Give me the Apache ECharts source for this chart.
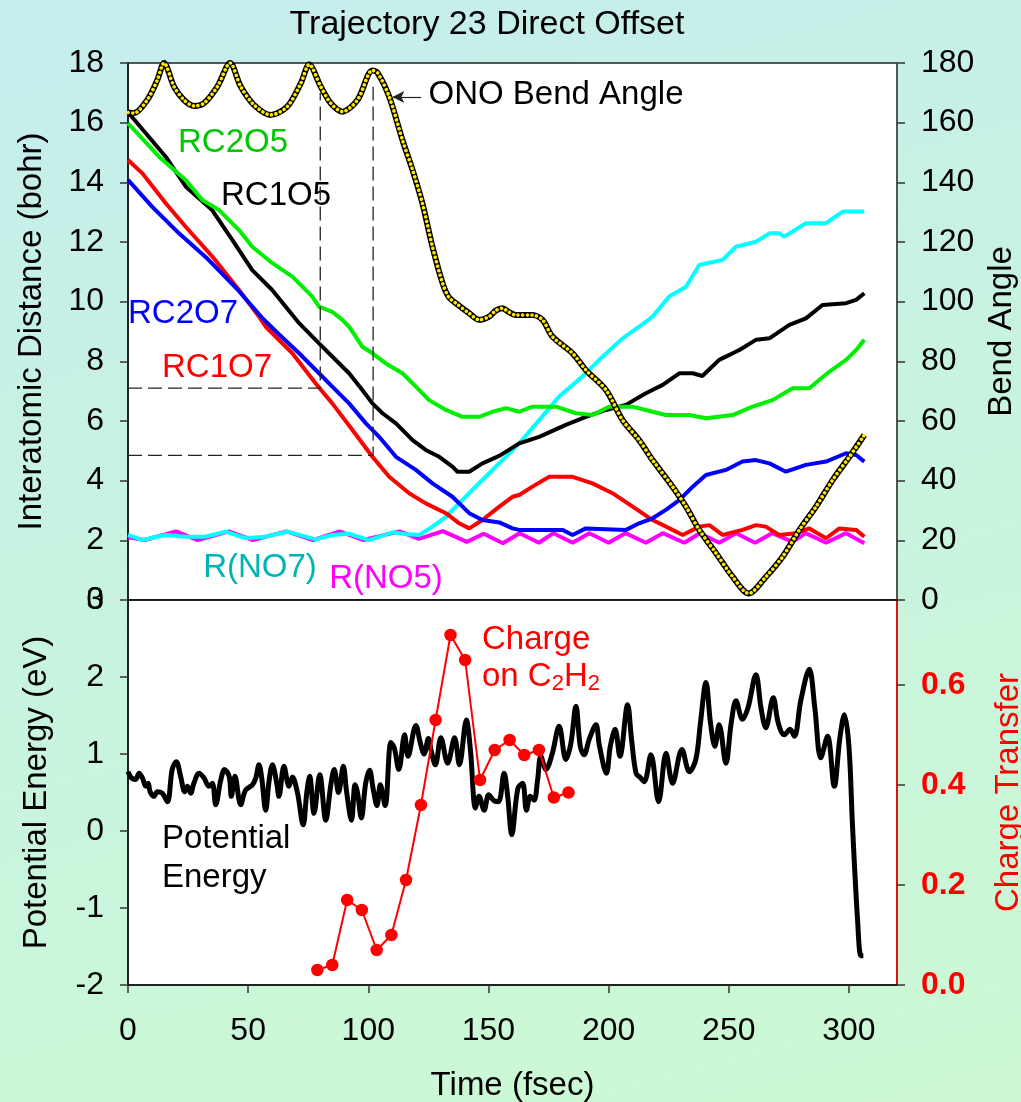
<!DOCTYPE html>
<html><head><meta charset="utf-8">
<script src="https://cdn.jsdelivr.net/npm/echarts@6/dist/echarts.min.js"></script>
<style>
html,body{margin:0;padding:0;overflow:hidden;width:1021px;height:1102px;}
body{background:linear-gradient(165deg,#c5edee 0%,#c8f3e0 45%,#ccf9d3 100%);}
#c{position:absolute;left:0;top:0;width:1021px;height:1102px;}
</style></head><body><div id="c"></div>
<script>
// ---------- DATA ----------
const timeTicks = [0, 50, 100, 150, 200, 250, 300];
const chargeTicks = [0, 0.2, 0.4, 0.6];

// Interatomic distances (bohr): [time fsec, value]
const rc2o5 = [[0,15.98],[12.9,14.86],[24,14.08],[30.9,13.41],[37.9,13.07],[46.2,12.40],[51.7,11.84],[60.1,11.29],[68.4,10.84],[76.7,10.17],[79.5,9.83],[85,9.66],[89.2,9.39],[92,9.16],[97.5,8.49],[101.7,8.27],[107.3,7.93],[114.2,7.60],[119.8,7.15],[125.3,6.70],[132.3,6.37],[139.2,6.14],[146.1,6.14],[151.7,6.31],[157.3,6.43],[162.8,6.31],[168.3,6.48],[178.1,6.48],[186.4,6.26],[193.3,6.20],[200.2,6.48],[210,6.48],[218.3,6.31],[223.8,6.20],[233.6,6.20],[240.5,6.09],[251.6,6.20],[259.9,6.48],[268.2,6.70],[276.6,7.10],[283.5,7.10],[291.8,7.65],[298.8,8.05],[303,8.38],[306.4,8.72]];
const rc1o5 = [[0,16.35],[15.7,14.86],[24,13.86],[35,13.07],[43.4,12.07],[51.7,11.06],[60,10.39],[71.2,9.28],[79.5,8.60],[92,7.60],[97.5,7.04],[101.7,6.59],[105.9,6.26],[111.5,5.92],[118.4,5.36],[123.9,5.03],[129.5,4.80],[135,4.47],[137.1,4.30],[142,4.30],[147.5,4.58],[154.5,4.83],[162.8,5.25],[171.1,5.47],[182.2,5.87],[190.5,6.14],[198.9,6.37],[207.2,6.54],[215.5,6.93],[222.5,7.21],[229.4,7.60],[235,7.60],[239,7.51],[246,8.05],[254.4,8.38],[261.3,8.72],[266.9,8.77],[275.2,9.22],[282.1,9.44],[289,9.89],[298.8,9.95],[303,10.06],[306.4,10.28]];
const rc2o7 = [[0,14.08],[10.1,13.18],[21.2,12.29],[32.3,11.50],[46.2,10.35],[55.9,9.45],[62.9,8.90],[71.2,8.27],[79.5,7.60],[85,7.15],[92,6.59],[99,5.92],[104.5,5.47],[111.5,4.80],[119.8,4.36],[126.7,3.91],[135,3.46],[142,2.91],[147.5,2.68],[154.5,2.60],[160,2.40],[162.8,2.35],[180.8,2.35],[185,2.18],[190.5,2.40],[207.2,2.35],[212.7,2.57],[218.3,2.74],[223.8,3.02],[229.4,3.35],[235,3.80],[240.5,4.19],[248.8,4.36],[255.7,4.64],[261.3,4.69],[266.9,4.58],[273.8,4.30],[282.1,4.53],[290.5,4.64],[298.8,4.92],[303,4.86],[306.4,4.64]];
const rc1o7 = [[0,14.75],[6,14.30],[15.7,13.30],[24,12.51],[35.1,11.51],[46.2,10.39],[54.5,9.50],[57.3,9.16],[68.4,8.27],[78.1,7.26],[85,6.59],[93.4,5.70],[101.7,4.80],[108.7,4.13],[117,3.58],[123.9,3.24],[132.3,2.91],[137.8,2.57],[142,2.40],[147.5,2.68],[154.5,3.13],[160,3.46],[162.8,3.52],[168.3,3.80],[175.3,4.13],[185,4.13],[193.3,3.91],[201.6,3.58],[210,3.13],[218.3,2.68],[226.6,2.35],[230.8,2.18],[237.7,2.46],[241.9,2.51],[247.4,2.18],[255.7,2.35],[261.3,2.51],[265.4,2.46],[271,2.18],[278,2.24],[283.5,2.40],[290.5,2.07],[296,2.40],[303,2.35],[306.4,2.12]];
const rno7 = [[0,2.18],[6,2.01],[15.7,2.18],[24,2.12],[32,2.12],[40.7,2.29],[49,2.07],[57,2.12],[66.3,2.29],[78.1,2.03],[85,2.18],[92,2.22],[100.3,2.01],[110,2.27],[116,2.20],[121.2,2.18],[126.7,2.46],[132.3,2.79],[137.8,3.24],[143.3,3.69],[150.3,4.25],[157.2,4.80],[162.8,5.25],[171.1,6.03],[179.4,6.82],[189.1,7.49],[196.1,8.05],[205.8,8.77],[212.7,9.16],[218.3,9.50],[225.2,10.17],[232.2,10.50],[237.7,11.23],[247.4,11.40],[253,11.84],[261.3,12.01],[266.9,12.29],[271,12.29],[273.1,12.18],[282.1,12.63],[290.5,12.63],[297.4,13.02],[306.4,13.02]];
const rno5 = [[0,2.10],[7,2.01],[20,2.30],[29,2.01],[42,2.30],[52,2.01],[66,2.30],[77,2.01],[88,2.30],[98,2.01],[113,2.30],[121,2.05],[131,2.31],[141,1.95],[148,2.22],[156,1.90],[163,2.24],[171,1.92],[177,2.24],[185,1.92],[192,2.24],[200,1.92],[207,2.24],[215.5,1.92],[222.5,2.24],[231.5,1.92],[238,2.24],[246,1.92],[253,2.24],[261,1.92],[268,2.24],[276.6,1.95],[282,2.24],[290.5,1.92],[298.8,2.24],[306.4,1.90]];

// ONO bend angle (degrees)
const bendAngle = [[0,163.4],[2.5,163.2],[8,167.6],[12.2,174.3],[15,180],[19.2,172],[23.3,167.6],[27.5,165.6],[31.6,166.5],[37.2,172.1],[42.5,180],[46.9,172.1],[52.5,165.9],[59.4,162.6],[66.3,165.4],[71.9,173.2],[75.4,179.5],[80.2,172.1],[84.4,166.5],[89.2,163.7],[95.5,167.6],[101.7,177.5],[103.8,176.8],[108.7,168.7],[114.2,154.2],[118.4,144.2],[122.5,133],[126.7,118.4],[130.9,106.2],[133.5,101.5],[136.4,99.5],[142,96.1],[146.1,93.9],[150.3,95],[153,97],[155.8,97.8],[158.5,96.5],[161.4,95.5],[168.3,95.5],[172.5,93.9],[176.6,88.3],[185,82.7],[190.5,77.1],[198.9,70.4],[205.8,60.3],[212.7,53.6],[218.3,46.9],[226.6,38],[232.2,31.3],[237.7,23.5],[244.7,15.7],[251.6,7.8],[258.3,2.2],[265.5,7.8],[272.4,14.5],[279.4,23.5],[286.3,31.3],[293.2,40.2],[300.2,48],[306.4,55.3]];

// Drop lines (bohr)
const dropA = [[0,7.1],[80,7.1],[80,17.0]];
const dropB = [[0,4.85],[102,4.85],[102,17.2]];
const arrowFrom = [122, 168.6], arrowTo = [110, 168.6];

// Potential energy (eV)
const potEnergy = [[0,0.77],[1.4,0.69],[3.2,0.67],[4.6,0.75],[6,0.69],[7.4,0.58],[8.4,0.62],[9.2,0.51],[10.8,0.45],[12.2,0.51],[14.3,0.49],[16.4,0.38],[18.4,0.80],[20.1,0.90],[21.9,0.71],[23.6,0.51],[24.7,0.58],[26.1,0.49],[27.4,0.62],[29.6,0.75],[31.6,0.69],[33.7,0.58],[35.1,0.62],[36.5,0.34],[38.6,0.66],[40.2,0.80],[42.1,0.71],[43,0.45],[44.5,0.71],[46.9,0.34],[48.9,0.53],[51.8,0.60],[53.2,0.69],[54.5,0.86],[55.6,0.70],[57.3,0.27],[58.7,0.65],[60.1,0.86],[61.9,0.62],[62.8,0.45],[64.9,0.84],[67,0.58],[68.4,0.70],[70.5,0.50],[72.9,0.08],[74.4,0.50],[75.6,0.71],[77.4,0.23],[79.8,0.73],[82.3,0.14],[84.4,0.60],[85.8,0.80],[87.6,0.50],[89.6,0.84],[91,0.50],[93,0.14],[94.5,0.60],[95.5,0.50],[97.1,0.17],[98.9,0.62],[100.5,0.79],[102,0.55],[103.6,0.33],[105,0.60],[107,0.33],[109.4,1.15],[110.8,1.08],[112.7,0.80],[115.1,1.25],[116.5,0.97],[119.8,1.37],[121.6,1.15],[123.2,1.00],[125,1.20],[126.1,1.05],[127.9,0.86],[130.2,1.21],[133,0.88],[135.9,1.21],[137.9,0.86],[140.8,1.44],[142.5,1.05],[144.6,0.30],[146.1,0.45],[148.2,0.27],[150.1,0.47],[152.4,0.39],[154.2,0.38],[156.5,0.75],[158,0.45],[159.7,-0.05],[162.2,0.55],[164.2,0.62],[165.8,0.27],[167.4,0.45],[169,0.40],[170.4,0.65],[171.8,0.97],[173.9,0.80],[176.5,1.00],[179.4,1.36],[182.2,0.93],[184.3,1.14],[186.4,1.62],[188.2,1.10],[189.8,0.99],[192,1.20],[194.7,1.38],[196.2,1.10],[199.1,0.75],[200.7,1.10],[202.7,1.32],[204.7,0.97],[207.9,1.64],[209.5,1.20],[211.4,0.75],[213,0.70],[214.8,0.64],[217.6,0.99],[220.8,0.38],[223.9,1.01],[226.6,0.62],[230.5,1.06],[233.6,0.77],[236.3,0.93],[238.2,1.40],[240.5,1.93],[242.4,1.40],[244.2,1.10],[246,1.38],[248.8,0.88],[251,1.40],[253,1.69],[255.7,1.45],[258,1.60],[261.3,2.03],[263.4,1.60],[265.4,1.34],[268.5,1.73],[270.6,1.40],[273.1,1.25],[275.5,1.32],[277.3,1.23],[280,1.70],[283.5,2.10],[285.8,1.60],[288.3,0.95],[291.1,1.23],[293.9,0.58],[296.2,1.20],[298.1,1.51],[300,1.10],[301.5,0.06],[303.6,-1.16],[305,-1.62],[306,-1.62]];

// Charge on C2H2
const chargeTimes = [78.8,85.0,91.2,97.3,103.5,109.6,115.7,121.9,128.0,134.2,140.3,146.5,152.6,158.8,164.9,171.0,177.2,183.3];
const chargeValues = [0.03,0.04,0.17,0.15,0.07,0.10,0.21,0.36,0.53,0.70,0.65,0.41,0.47,0.49,0.46,0.47,0.375,0.385];

// ---------- CHART ----------
const F = 'Liberation Sans, Arial, Helvetica, sans-serif';
const chart = echarts.init(document.getElementById('c'), null, {renderer:'canvas', width:1021, height:1102});
const fs = 32;
const gridL = 128, gridR = 1021-897;

function yAx(o){
  return Object.assign({
    type:'value', splitLine:{show:false},
    axisLine:{show:true, lineStyle:{color:'#111', width:1.5}},
    axisTick:{show:true, inside:false, length:8, lineStyle:{color:'#333', width:1.5}},
    axisLabel:{fontFamily:F, fontSize:fs, color:'#000', margin:24},
    nameLocation:'middle', nameTextStyle:{fontFamily:F, fontSize:33, color:'#000'}
  }, o);
}
const line = (name, data, color, w, extra) => Object.assign({
  name, type:'line', data, xAxisIndex:0, yAxisIndex:0, showSymbol:false, symbol:'none',
  lineStyle:{color, width:w}, itemStyle:{color}, silent:true
}, extra||{});

const opt = {
  animation:false,
  backgroundColor:'transparent',
  grid:[
    {left:gridL, right:gridR, top:63, height:537, outerBoundsMode:'none', containLabel:false,
     show:true, backgroundColor:'#fff', borderColor:'#222', borderWidth:1.5},
    {left:gridL, right:gridR, top:600, height:385, outerBoundsMode:'none', containLabel:false,
     show:true, backgroundColor:'#fff', borderColor:'#222', borderWidth:1.5}
  ],
  xAxis:[
    {type:'value', gridIndex:0, min:0, max:320, interval:50, splitLine:{show:false},
     axisLine:{show:true, onZero:false, lineStyle:{color:'#111', width:1.5}}, axisTick:{show:false}, axisLabel:{show:false}},
    {type:'value', gridIndex:1, min:0, max:320, interval:50, splitLine:{show:false},
     axisLine:{show:true, onZero:false, lineStyle:{color:'#111', width:1.5}},
     axisTick:{show:true, length:8, lineStyle:{color:'#333', width:1.5}, customValues:timeTicks},
     axisLabel:{fontFamily:F, fontSize:fs, color:'#000', margin:30, customValues:timeTicks},
     name:'Time (fsec)', nameLocation:'middle', nameGap:84, nameTextStyle:{fontFamily:F, fontSize:33, color:'#000'}}
  ],
  yAxis:[
    yAx({gridIndex:0, position:'left', min:0, max:18, interval:2, name:'Interatomic Distance (bohr)', nameGap:80}),
    yAx({gridIndex:0, position:'right', min:0, max:180, interval:20, name:'Bend Angle', nameGap:84,
         axisLine:{show:true, lineStyle:{color:'#555', width:1.5}}}),
    yAx({gridIndex:1, position:'left', min:-2, max:3, interval:1, name:'Potential Energy (eV)', nameGap:75}),
    yAx({gridIndex:1, position:'right', min:0, max:0.77,
         axisLine:{show:true, lineStyle:{color:'#ff0000', width:1.5}},
         axisTick:{show:true, length:8, lineStyle:{color:'#333', width:1.5}, customValues:chargeTicks},
         axisLabel:{fontFamily:F, fontSize:fs, color:'#ff0000', fontWeight:'bold', margin:24, customValues:chargeTicks,
                    formatter:v=>v.toFixed(1)},
         name:'Charge Transfer', nameGap:95, nameTextStyle:{fontFamily:F, fontSize:33, color:'#ff0000'}})
  ],
  series:[
    line('R(NO5)', rno5, '#ff00ff', 4),
    line('R(NO7)', rno7, '#00ffff', 4),
    line('RC1O7', rc1o7, '#ff0000', 4),
    line('RC2O7', rc2o7, '#0000ff', 4),
    line('RC1O5', rc1o5, '#000000', 4),
    line('RC2O5', rc2o5, '#00ee00', 4),
    line('dropA', dropA, '#222', 1.3, {lineStyle:{color:'#222', width:1.3, type:[14,6]}}),
    line('dropB', dropB, '#222', 1.3, {lineStyle:{color:'#222', width:1.3, type:[14,6]}}),
    line('bendOutline', bendAngle, '#000', 6, {yAxisIndex:1, smooth:0.3,
      markLine:{silent:true, symbol:['arrow','none'], symbolSize:[9,12], label:{show:false},
        lineStyle:{color:'#222', width:1.2, type:'solid'},
        data:[[{coord:arrowFrom, symbol:'none'},{coord:arrowTo, symbol:'arrow'}]]}}),
    line('bendDots', bendAngle, '#ffee00', 3.6, {yAxisIndex:1, smooth:0.3,
      lineStyle:{color:'#ffe800', width:3.6, type:[0.01,4.6], cap:'round'}}),
    line('Potential Energy', potEnergy, '#000', 5, {xAxisIndex:1, yAxisIndex:2, smooth:0.35}),
    {name:'Charge', type:'line', xAxisIndex:1, yAxisIndex:3, silent:true,
     data: chargeTimes.map((t,i)=>[t, chargeValues[i]]),
     symbol:'circle', symbolSize:12.5, showSymbol:true,
     lineStyle:{color:'#ff0000', width:2}, itemStyle:{color:'#ff0000'}}
  ],
  graphic:[
    {type:'text', x:487, y:25, style:{text:'Trajectory 23 Direct Offset', font:'34px '+F, fill:'#000', align:'center', verticalAlign:'middle'}},
    {type:'text', x:233, y:143, style:{text:'RC2O5', font:'33px '+F, fill:'#00c800', align:'center', verticalAlign:'middle'}},
    {type:'text', x:276, y:196, style:{text:'RC1O5', font:'33px '+F, fill:'#000', align:'center', verticalAlign:'middle'}},
    {type:'text', x:183, y:314, style:{text:'RC2O7', font:'33px '+F, fill:'#0000ff', align:'center', verticalAlign:'middle'}},
    {type:'text', x:217, y:368, style:{text:'RC1O7', font:'33px '+F, fill:'#ff0000', align:'center', verticalAlign:'middle'}},
    {type:'text', x:260, y:568, style:{text:'R(NO7)', font:'33px '+F, fill:'#00b4b4', align:'center', verticalAlign:'middle'}},
    {type:'text', x:386, y:579, style:{text:'R(NO5)', font:'33px '+F, fill:'#ff00ff', align:'center', verticalAlign:'middle'}},
    {type:'text', x:556, y:95, style:{text:'ONO Bend Angle', font:'33px '+F, fill:'#000', align:'center', verticalAlign:'middle'}},
    {type:'text', x:482, y:640, style:{text:'Charge', font:'33px '+F, fill:'#ff0000', align:'left', verticalAlign:'middle'}},
    {type:'text', x:482, y:677, style:{text:'{a|on C}{s|2}{a|H}{s|2}', align:'left', verticalAlign:'middle',
      rich:{a:{font:'33px '+F, fill:'#ff0000', color:'#ff0000'}, s:{font:'22px '+F, fill:'#ff0000', color:'#ff0000', padding:[14,0,0,0]}}}},
    {type:'text', x:162, y:839, style:{text:'Potential', font:'33px '+F, fill:'#000', align:'left', verticalAlign:'middle'}},
    {type:'text', x:162, y:878, style:{text:'Energy', font:'33px '+F, fill:'#000', align:'left', verticalAlign:'middle'}}
  ]
};
chart.setOption(opt);
</script></body></html>
